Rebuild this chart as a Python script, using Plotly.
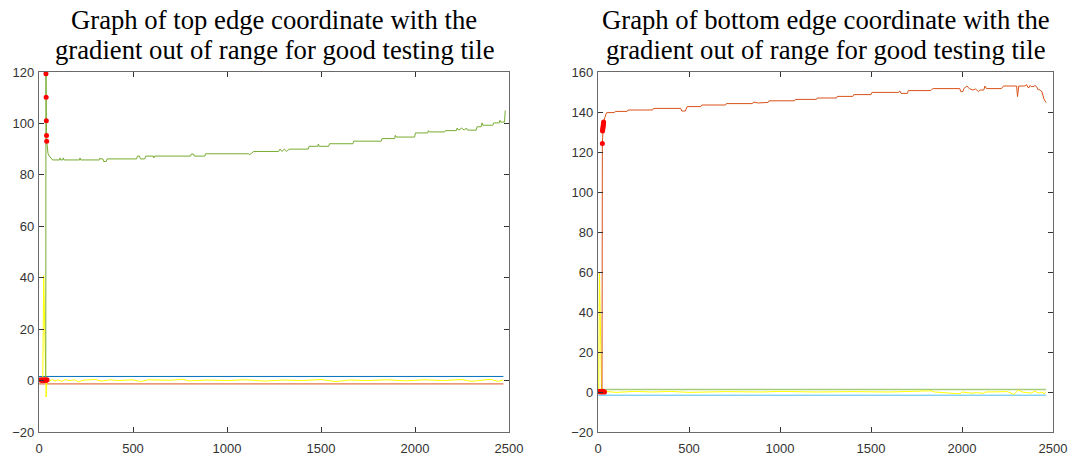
import plotly.graph_objects as go

# ---------------- Left chart: top edge ----------------
top_edge_x = [36, 37, 38, 39, 40, 41, 44, 48, 55, 62, 72, 110, 112, 116, 127, 129, 133, 216, 218, 222,
              322, 324, 330, 340, 344, 358, 362, 519, 524, 534, 540, 562, 568, 608, 611, 614, 806, 810,
              822, 826, 882, 886, 1116, 1120, 1128, 1142, 1275, 1282, 1292, 1305, 1318, 1330, 1432,
              1436, 1483, 1486, 1490, 1541, 1545, 1670, 1674, 1821, 1825, 1892, 1895, 1900, 1998, 2002,
              2068, 2071, 2076, 2158, 2162, 2220, 2224, 2232, 2248, 2262, 2273, 2279, 2326, 2330, 2352,
              2356, 2361, 2414, 2418, 2448, 2452, 2457, 2476, 2480]
top_edge_y = [0.0, 119.3, 110.2, 101.0, 95.3, 93.1, 90.0, 88.3, 87.3, 86.8, 85.8, 85.8, 86.6, 85.8, 85.8,
              86.6, 85.8, 85.8, 86.6, 85.8, 85.8, 86.5, 86.2, 86.2, 85.2, 85.2, 86.2, 86.2, 87.3, 87.3,
              86.2, 86.2, 87.3, 87.3, 86.6, 87.3, 87.3, 88.1, 88.1, 87.3, 87.3, 88.2, 88.2, 87.8, 88.2,
              89.1, 89.1, 90.0, 89.1, 90.0, 89.1, 90.0, 90.0, 91.1, 91.1, 92.0, 91.1, 91.1, 92.1, 92.1,
              93.1, 93.1, 94.1, 94.1, 95.4, 94.7, 94.7, 96.3, 96.3, 97.2, 96.7, 96.7, 97.2, 97.2, 98.2,
              97.4, 98.2, 97.4, 98.2, 97.4, 97.4, 98.7, 98.7, 100.2, 99.3, 99.3, 100.2, 100.2, 101.2,
              100.5, 100.5, 105.0]

top_grad_x = [0, 18, 20, 25, 38, 42, 55, 70, 85, 100, 120, 140, 160, 190, 210, 240, 300, 330, 380, 420,
              500, 540, 580, 700, 760, 800, 900, 1000, 1100, 1200, 1300, 1400, 1500, 1580, 1650, 1750,
              1850, 1950, 2050, 2150, 2250, 2300, 2350, 2400, 2440, 2470]
top_grad_y = [0.0, 0.2, 0.0, 40.8, -6.4, 0.3, -0.3, 0.4, -0.2, 0.3, -0.3, 0.4, 0.0, 0.3, -0.5, 0.2, 0.4,
              -0.2, 0.3, 0.0, 0.3, -0.4, 0.3, 0.1, 0.5, -0.1, 0.2, 0.0, 0.3, -0.2, 0.2, 0.0, 0.4, -0.4,
              0.2, 0.0, 0.3, -0.1, 0.3, 0.0, 0.4, -0.3, 0.2, 0.5, -0.3, 0.2]

top_upper_x = [0, 2470]
top_upper_y = [1.6, 1.6]
top_lower_x = [0, 2470]
top_lower_y = [-1.3, -1.3]

top_out_x = [8, 14, 20, 26, 32, 38, 43, 37, 38, 39, 40, 41]
top_out_y = [0.3, 0.0, 0.3, 0.0, 0.3, 0.0, 0.3, 119.3, 110.2, 101.0, 95.3, 93.1]

# ---------------- Right chart: bottom edge ----------------
bot_edge_x = [18, 22, 24, 25, 27, 29, 31, 36, 42, 48, 90, 95, 160, 165, 300, 305, 455, 460, 480, 490,
              565, 570, 700, 705, 850, 855, 880, 935, 940, 1080, 1085, 1200, 1205, 1310, 1315, 1400,
              1405, 1500, 1505, 1650, 1659, 1665, 1700, 1705, 1828, 1833, 1842, 1988, 1993, 2005, 2010,
              2027, 2040, 2060, 2075, 2090, 2100, 2120, 2126, 2135, 2217, 2224, 2230, 2300, 2305, 2312,
              2346, 2355, 2362, 2370, 2374, 2380, 2395, 2400, 2410, 2416, 2430, 2440, 2450, 2462]
bot_edge_y = [0.0, 0.0, 124.3, 130.5, 132.0, 133.5, 135.0, 137.0, 138.5, 139.7, 139.7, 140.3, 140.3,
              141.0, 141.0, 141.8, 141.8, 140.5, 140.5, 142.7, 142.7, 143.5, 143.5, 144.2, 144.2, 145.0,
              144.5, 144.8, 145.6, 145.6, 146.3, 146.3, 147.0, 147.0, 147.8, 147.8, 148.7, 148.7, 149.8,
              149.8, 150.5, 149.3, 149.3, 150.7, 150.7, 151.3, 151.7, 151.7, 150.2, 150.2, 151.7, 153.0,
              151.7, 151.0, 151.5, 150.2, 151.0, 151.0, 153.0, 151.7, 151.7, 152.7, 153.0, 153.0, 147.7,
              153.0, 153.0, 153.7, 152.3, 152.3, 153.3, 152.7, 152.7, 153.3, 152.7, 151.3, 151.0, 150.0,
              146.5, 144.7]

bot_grad_x = [0, 4, 8, 20, 40, 100, 200, 300, 400, 500, 700, 900, 1000, 1200, 1400, 1600, 1830, 1850,
              1970, 1990, 2000, 2050, 2080, 2115, 2130, 2250, 2285, 2310, 2330, 2380, 2400, 2420, 2440,
              2450, 2460]
bot_grad_y = [0.0, 0.0, 59.8, 0.0, 0.3, -0.2, 0.3, 0.0, 0.3, -0.2, 0.2, 0.0, 0.3, 0.0, 0.2, 0.0, 0.6,
              0.0, -0.8, -0.8, 0.0, -0.6, -0.3, -0.7, 0.0, 0.2, -1.2, 1.0, 0.0, -0.5, 0.4, -0.5, 0.0,
              -1.0, 0.2]

bot_upper_x = [0, 2462]
bot_upper_y = [1.3, 1.3]
bot_lower_x = [0, 2462]
bot_lower_y = [-1.6, -1.6]

bot_out_x = [6, 12, 18, 24, 30, 36, 24, 25, 26, 27, 28, 29, 30, 31]
bot_out_y = [0.3, 0.0, 0.3, 0.0, 0.3, 0.0, 124.3, 130.5, 131.3, 132.0, 132.8, 133.5, 134.3, 135.0]

x_ticks = [0, 500, 1000, 1500, 2000, 2500]
left_y_ticks = [-20, 0, 20, 40, 60, 80, 100, 120]
right_y_ticks = [-20, 0, 20, 40, 60, 80, 100, 120, 140, 160]

title_left = ["Graph of top edge coordinate with the",
              "gradient out of range for good testing tile"]
title_right = ["Graph of bottom edge coordinate with the",
               "gradient out of range for good testing tile"]

# ---------------- Figure ----------------
BLUE = "#0072BD"
ORANGE = "#D95319"
YELLOW = "#FFFF00"
GREEN = "#77AC30"
LBLUE = "#4DBEEE"
RED = "#FF0000"

fig = go.Figure()

def line(x, y, color, xa, ya, width=1.0):
    fig.add_trace(go.Scatter(x=x, y=y, mode="lines", line=dict(color=color, width=width),
                             xaxis=xa, yaxis=ya, showlegend=False, hoverinfo="skip"))

# left
line(top_upper_x, top_upper_y, BLUE, "x", "y")
line(top_lower_x, top_lower_y, ORANGE, "x", "y")
line(top_grad_x, top_grad_y, YELLOW, "x", "y")
line(top_edge_x, top_edge_y, GREEN, "x", "y")
fig.add_trace(go.Scatter(x=top_out_x, y=top_out_y, mode="markers",
                         marker=dict(color=RED, size=5), xaxis="x", yaxis="y",
                         showlegend=False, hoverinfo="skip"))
# right
line(bot_upper_x, bot_upper_y, "#A5CC7A", "x2", "y2", 1.5)
line(bot_lower_x, bot_lower_y, LBLUE, "x2", "y2")
line(bot_grad_x, bot_grad_y, YELLOW, "x2", "y2")
line(bot_edge_x, bot_edge_y, ORANGE, "x2", "y2")
fig.add_trace(go.Scatter(x=bot_out_x, y=bot_out_y, mode="markers",
                         marker=dict(color=RED, size=5), xaxis="x2", yaxis="y2",
                         showlegend=False, hoverinfo="skip"))

W, H = 1078, 459
AX_COLOR = "#6a6a6a"
TICK_FONT = dict(family="Liberation Sans, Arial, sans-serif", size=13, color="#333333")

def axis_common():
    return dict(showline=True, linecolor=AX_COLOR, linewidth=1.2, mirror="ticks",
                ticks="inside", ticklen=5, tickcolor="#333333", tickwidth=1,
                showgrid=False, zeroline=False, tickfont=TICK_FONT, automargin=False)

ydom = [27 / H, 387 / H]
fig.update_layout(
    width=W, height=H, template="none",
    margin=dict(l=0, r=0, t=0, b=0),
    paper_bgcolor="white", plot_bgcolor="white",
    xaxis=dict(domain=[39 / W, 509 / W], range=[0, 2500], tickvals=x_ticks, anchor="y",
               ticklabelstandoff=4, **axis_common()),
    yaxis=dict(domain=ydom, range=[-20, 120], tickvals=left_y_ticks, anchor="x",
               ticklabelstandoff=1, **axis_common()),
    xaxis2=dict(domain=[598 / W, 1053 / W], range=[0, 2500], tickvals=x_ticks, anchor="y2",
                ticklabelstandoff=4, **axis_common()),
    yaxis2=dict(domain=ydom, range=[-20, 160], tickvals=right_y_ticks, anchor="x2",
                ticklabelstandoff=1, **axis_common()),
)

TITLE_FONT = dict(family="Liberation Serif, Times New Roman, serif", size=26.7, color="black")
for cx, lines in [(274, title_left), (825.5, title_right)]:
    for i, (txt, py) in enumerate(zip(lines, [20, 50])):
        fig.add_annotation(x=cx / W, y=1 - py / H, xref="paper", yref="paper", text=txt,
                           showarrow=False, xanchor="center", yanchor="middle", font=TITLE_FONT)

fig.write_html("out.html")
